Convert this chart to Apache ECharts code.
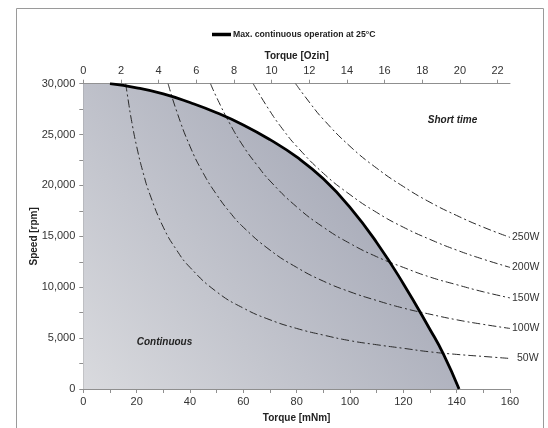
<!DOCTYPE html>
<html>
<head>
<meta charset="utf-8">
<style>html,body{margin:0;padding:0;background:#fff;}#c{width:548px;height:428px;}</style>
<script src="https://cdn.jsdelivr.net/npm/echarts@6/dist/echarts.min.js"></script>
</head>
<body>
<div id="c"></div>
<script>
// ---- data ----
const mNmTicks = [0, 20, 40, 60, 80, 100, 120, 140, 160];
const ozinTicks = [0, 2, 4, 6, 8, 10, 12, 14, 16, 18, 20, 22];
const speedTicks = [0, 5000, 10000, 15000, 20000, 25000, 30000];
const mNmPerOzin = 7.0615;

const maxName = 'Max. continuous operation at 25°C';
const maxContinuous = [[10,30000],[20,29600],[30,29000],[40,28150],[50,27150],[60,25950],[70,24500],[80,22800],[90,20650],[100,17850],[110,14400],[120,10350],[130,5850],[135,3450],[140.9,0]];

const p50 = [[15.9,30000],[17,28100],[18,26500],[20,23850],[22.5,21200],[25,19100],[30,15900],[35,13650],[40,11950],[50,9550],[60,7950],[70,6800],[80,5950],[90,5300],[100,4750],[110,4350],[120,4000],[130,3650],[140,3400],[150,3200],[160,3000]];
const p100 = [[31.8,30000],[35,27300],[40,23850],[45,21200],[50,19100],[55,17350],[60,15900],[70,13650],[80,11950],[90,10600],[100,9550],[110,8700],[120,7950],[130,7350],[140,6800],[150,6350],[160,5950]];
const p150 = [[47.7,30000],[50,28650],[55,26050],[60,23850],[65,22050],[70,20450],[80,17900],[90,15900],[100,14300],[110,13000],[120,11950],[130,11000],[140,10250],[150,9550],[160,8950]];
const p200 = [[63.7,30000],[70,27300],[75,25450],[80,23850],[90,21200],[100,19100],[110,17350],[120,15900],[130,14700],[140,13650],[150,12750],[160,11950]];
const p250 = [[79.6,30000],[85,28100],[90,26500],[100,23850],[110,21700],[120,19900],[130,18350],[140,17050],[150,15900],[160,14900]];
const powerNames = ['50W', '100W', '150W', '200W', '250W'];
const powerData = [p50, p100, p150, p200, p250];

// ---- chart ----
const chart = echarts.init(document.getElementById('c'), null, {renderer: 'canvas'});
const font = 'Liberation Sans, Arial, sans-serif';
const axisGray = '#8f8f8f';
const txt = '#333';

const powerSeries = powerData.map((d, i) => ({
  name: powerNames[i],
  type: 'line',
  data: d,
  smooth: 0.5,
  showSymbol: false,
  silent: true,
  lineStyle: {color: '#2a2a2a', width: 1, type: [8, 3, 2, 3]},
  endLabel: {
    show: true,
    formatter: powerNames[i],
    color: txt,
    fontFamily: font,
    fontSize: 10.5,
    distance: i === 0 ? 7 : 2
  },
  z: 3
}));

const option = {
  animation: false,
  backgroundColor: '#fff',
  textStyle: {fontFamily: font},
  grid: {left: 83.3, right: 38, top: 83.7, bottom: 36.3, containLabel: false},
  legend: {
    data: [maxName],
    left: 207,
    top: 25,
    icon: 'rect',
    itemWidth: 19,
    itemHeight: 3.5,
    itemGap: 5,
    textStyle: {fontFamily: font, fontSize: 8.7, fontWeight: 'bold', color: '#222', padding: [0, 0, 0, -3]}
  },
  xAxis: [
    {
      type: 'value', position: 'bottom', min: 0, max: 160, interval: 20,
      name: 'Torque [mNm]', nameLocation: 'middle', nameGap: 24,
      nameTextStyle: {fontFamily: font, fontSize: 10, fontWeight: 'bold', color: '#222'},
      axisLine: {show: true, lineStyle: {color: axisGray, width: 1}},
      axisTick: {show: true, length: 4, lineStyle: {color: axisGray}},
      minorTick: {show: true, splitNumber: 2, length: 4, lineStyle: {color: axisGray}},
      axisLabel: {color: txt, fontSize: 11, fontFamily: font, margin: 7,
        customValues: mNmTicks},
      splitLine: {show: false}, minorSplitLine: {show: false}
    },
    {
      type: 'value', position: 'top', min: 0, max: 160 / mNmPerOzin,
      name: 'Torque [Ozin]', nameLocation: 'middle', nameGap: 22,
      nameTextStyle: {fontFamily: font, fontSize: 10, fontWeight: 'bold', color: '#222'},
      axisLine: {show: true, lineStyle: {color: axisGray, width: 1}},
      axisTick: {show: true, length: 4, lineStyle: {color: axisGray}, customValues: ozinTicks},
      axisLabel: {color: txt, fontSize: 11, fontFamily: font, margin: 7, customValues: ozinTicks},
      splitLine: {show: false}
    }
  ],
  yAxis: {
    type: 'value', min: 0, max: 30000, interval: 5000,
    name: 'Speed [rpm]', nameLocation: 'middle', nameGap: 44, nameRotate: 90,
    nameMoveOverlap: false,
    nameTextStyle: {fontFamily: font, fontSize: 10, fontWeight: 'bold', color: '#222'},
    axisLine: {show: true, lineStyle: {color: axisGray, width: 1}},
    axisTick: {show: true, length: 4, lineStyle: {color: axisGray}},
    minorTick: {show: true, splitNumber: 2, length: 4, lineStyle: {color: axisGray}},
    axisLabel: {color: txt, fontSize: 11, fontFamily: font, margin: 8,
      customValues: speedTicks,
      formatter: v => Number(v).toLocaleString('en-US')},
    splitLine: {show: false}, minorSplitLine: {show: false}
  },
  series: [
    {
      name: 'area',
      type: 'line',
      data: [[0, 30000]].concat(maxContinuous),
      smooth: 0.5,
      showSymbol: false,
      silent: true,
      lineStyle: {width: 0, opacity: 0},
      areaStyle: {
        opacity: 1,
        color: new echarts.graphic.LinearGradient(0, 1, 1, 0, [
          {offset: 0, color: '#d9dade'},
          {offset: 1, color: '#969aab'}
        ])
      },
      z: 1
    },
    ...powerSeries,
    {
      name: maxName,
      type: 'line',
      data: maxContinuous,
      smooth: 0.5,
      showSymbol: false,
      silent: true,
      itemStyle: {color: '#000'},
      lineStyle: {color: '#000', width: 2.8},
      z: 4
    }
  ],
  graphic: [
    {type: 'rect', shape: {x: 16.5, y: 8.5, width: 527, height: 440},
      style: {fill: 'none', stroke: '#9a9a9a', lineWidth: 1}, silent: true, z: -1},
    {type: 'text', x: 452.5, y: 120,
      style: {text: 'Short time', fontFamily: font, fontSize: 10, fontWeight: 'bold', fontStyle: 'italic',
        fill: '#222', align: 'center', verticalAlign: 'middle'}, z: 10},
    {type: 'text', x: 164.5, y: 342,
      style: {text: 'Continuous', fontFamily: font, fontSize: 10, fontWeight: 'bold', fontStyle: 'italic',
        fill: '#222', align: 'center', verticalAlign: 'middle'}, z: 10}
  ]
};
chart.setOption(option);
</script>
</body>
</html>
